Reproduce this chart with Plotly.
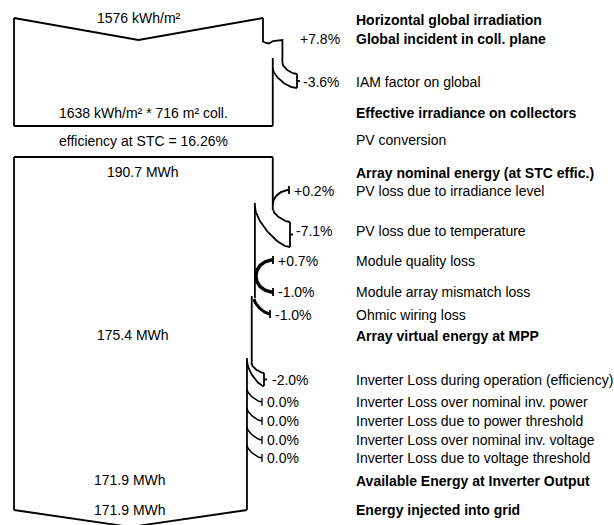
import numpy as np
import plotly.graph_objects as go

# ---------------- data ----------------
horizontal_global_kwh_m2 = 1576
effective_irradiance_kwh_m2 = 1638
collector_area_m2 = 716
stc_efficiency_pct = 16.26
array_nominal_mwh = 190.7
array_virtual_mwh = 175.4
inverter_output_mwh = 171.9
injected_mwh = 171.9

stage_labels = [
    "Horizontal global irradiation",
    "Global incident in coll. plane",
    "IAM factor on global",
    "Effective irradiance on collectors",
    "PV conversion",
    "Array nominal energy (at STC effic.)",
    "PV loss due to irradiance level",
    "PV loss due to temperature",
    "Module quality loss",
    "Module array mismatch loss",
    "Ohmic wiring loss",
    "Array virtual energy at MPP",
    "Inverter Loss during operation (efficiency)",
    "Inverter Loss over nominal inv. power",
    "Inverter Loss due to power threshold",
    "Inverter Loss over nominal inv. voltage",
    "Inverter Loss due to voltage threshold",
    "Available Energy at Inverter Output",
    "Energy injected into grid",
]

loss_names = [
    "Global incident in coll. plane",
    "IAM factor on global",
    "PV loss due to irradiance level",
    "PV loss due to temperature",
    "Module quality loss",
    "Module array mismatch loss",
    "Ohmic wiring loss",
    "Inverter Loss during operation (efficiency)",
    "Inverter Loss over nominal inv. power",
    "Inverter Loss due to power threshold",
    "Inverter Loss over nominal inv. voltage",
    "Inverter Loss due to voltage threshold",
]
loss_pct = [7.8, -3.6, 0.2, -7.1, 0.7, -1.0, -1.0, -2.0, 0.0, 0.0, 0.0, 0.0]

# ---------------- layout / style ----------------
bold_labels = {
    "Horizontal global irradiation",
    "Global incident in coll. plane",
    "Effective irradiance on collectors",
    "Array nominal energy (at STC effic.)",
    "Array virtual energy at MPP",
    "Available Energy at Inverter Output",
    "Energy injected into grid",
}
row_y = [20, 39, 82, 113, 140, 173, 191, 231, 261, 292, 315, 336,
         380, 402, 421, 440, 458, 481, 510]
pct_label_x = [298, 301, 292, 294, 276, 276, 273, 270, 265, 265, 265, 265]

FONT = "Liberation Sans, Arial, Helvetica, sans-serif"
FS = 14
LW = 1.8
X0 = 14          # left edge of the flow
FLOW_W = 249     # pixel width of the initial flow

# flow edges derived from the loss percentages
factors = np.cumprod(1 + np.array(loss_pct) / 100.0)
e_top = X0 + FLOW_W
edge = [X0 + FLOW_W * f for f in factors]
e1, e2, e3, e4, e5, e6, e7, e8 = edge[:8]

fig = go.Figure()


def line(xs, ys, w=LW):
    fig.add_trace(go.Scatter(x=list(xs), y=list(ys), mode="lines",
                             line=dict(color="black", width=w),
                             hoverinfo="skip", showlegend=False))


def qcurve(xa, ya, xb, yb, k=0.4, n=30):
    """cubic bezier starting vertically at (xa,ya), ending horizontally at (xb,yb)"""
    t = np.linspace(0, 1, n)
    p0 = np.array([xa, ya]); p3 = np.array([xb, yb])
    p1 = np.array([xa, ya + k * (yb - ya)])
    p2 = np.array([xb - k * (xb - xa), yb])
    pts = (np.outer((1 - t) ** 3, p0) + np.outer(3 * (1 - t) ** 2 * t, p1)
           + np.outer(3 * (1 - t) * t ** 2, p2) + np.outer(t ** 3, p3))
    return pts[:, 0], pts[:, 1]


def loss_band(x_out, y_out, x_in, y_in, x_end, y_mid, half, k=0.4):
    line(*qcurve(x_out, y_out, x_end, y_mid - half, k))
    line(*qcurve(x_in, y_in, x_end, y_mid + half, k))
    line([x_end, x_end], [y_mid - half, y_mid + half])
    line([x_end, x_end + 3], [y_mid, y_mid])


# ---- section 1: irradiation ----
mid1 = (X0 + e_top) / 2
line([X0, X0], [18, 126])
line([X0, mid1, e_top], [18, 40, 18])
line([e_top, e_top, e_top + 3, e_top + 6, e_top + 10, e1, e1],
     [18, 41.5, 43, 43.5, 41, 40, 63])
loss_band(e1, 63, e2, 68, 297, 81, 7)          # IAM
line([e2, e2], [58, 126])
line([X0, e2], [126, 126])

# ---- section 2: array ----
line([X0, e2], [157, 157])
line([e2, e2], [157, 210])
line(*qcurve(e2, 204, 289, 190, 0.5), w=2)    # irradiance gain
line([289, 289], [186, 194])
loss_band(e3, 210, e4, 206, 290, 234.5, 12.5, 0.35)  # temperature
line([e4, e4], [203, 298])
line(*qcurve(e4 + 1, 276, 273, 260, 0.55), w=3.5)   # module quality
line(*qcurve(e4 + 1, 276, 273, 292, 0.55), w=3.5)   # mismatch
line([273, 273], [256, 264])
line([273, 273], [288, 296])
line(*qcurve(e6, 299, 270, 314, 0.35), w=3)    # ohmic
line([270, 270], [310, 318])
line([e7, e7], [296, 365])
loss_band(e7, 364, e8, 361, 264, 379.5, 6.5, 0.35)   # inverter efficiency
line([e8, e8], [358, 510])
for y in row_y[13:17]:
    line(*qcurve(e8, y - 13, 262, y, 0.35), w=1.5)
    line([262, 262], [y - 4, y + 4], w=1.3)
line([X0, X0], [157, 510])
line([X0, (X0 + e8) / 2, e8], [510, 527, 510])

# ---------------- texts ----------------
ann = []


def txt(x, y, s, anchor="left", bold=False):
    ann.append(dict(x=x, y=y, xref="x", yref="y", text=f"<b>{s}</b>" if bold else s,
                    showarrow=False, xanchor=anchor, yanchor="middle",
                    font=dict(family=FONT, size=FS, color="black")))


for lab, y in zip(stage_labels, row_y):
    txt(354, y, lab, bold=lab in bold_labels)

for name, p, x in zip(loss_names, loss_pct, pct_label_x):
    y = row_y[stage_labels.index(name)]
    s = f"{p:+.1f}%" if p != 0 else "0.0%"
    txt(x, y, s)

txt(mid1, 18, f"{horizontal_global_kwh_m2} kWh/m²", "center")
txt((X0 + e2) / 2, 113,
    f"{effective_irradiance_kwh_m2} kWh/m² * {collector_area_m2} m² coll.", "center")
txt((X0 + e2) / 2, 141, f"efficiency at STC = {stc_efficiency_pct:.2f}%", "center")
txt((X0 + e2) / 2, 172, f"{array_nominal_mwh:.1f} MWh", "center")
txt((X0 + e7) / 2, 335, f"{array_virtual_mwh:.1f} MWh", "center")
txt((X0 + e8) / 2, 480, f"{inverter_output_mwh:.1f} MWh", "center")
txt((X0 + e8) / 2, 510, f"{injected_mwh:.1f} MWh", "center")

fig.update_layout(
    width=614, height=525,
    margin=dict(l=0, r=0, t=0, b=0),
    paper_bgcolor="white", plot_bgcolor="white",
    xaxis=dict(range=[0, 614], visible=False, fixedrange=True),
    yaxis=dict(range=[525, 0], visible=False, fixedrange=True),
    annotations=ann,
    showlegend=False,
)

fig.write_html("out.html", config={"displayModeBar": False},
               post_script="document.body.style.margin='0';")
